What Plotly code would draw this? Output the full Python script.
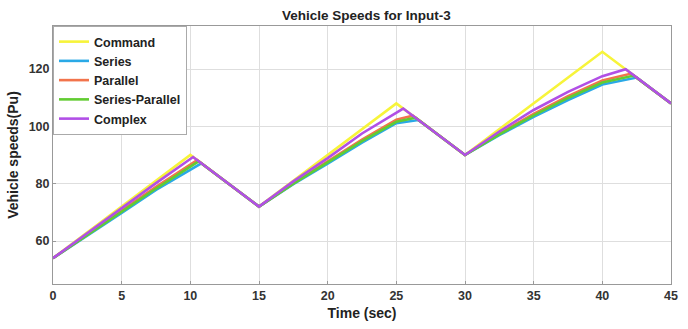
import plotly.graph_objects as go

# Data
t_command = [0, 10, 15, 25, 30, 40, 45]
v_command = [54, 90, 72, 108, 90, 126, 108]

t_series = [0, 2.5, 5, 7.5, 10.8, 15, 17.5, 20, 22.5, 25, 26.6, 30, 32.5, 35, 37.5, 40, 42.5, 45]
v_series = [54, 61.8, 69.8, 77.8, 87.1, 72, 79.8, 87.0, 94.3, 101.1, 102.2, 90, 96.9, 103.3, 109.2, 114.6, 117.0, 108]

t_parallel = [0, 2.5, 5, 7.5, 10.5, 15, 17.5, 20, 22.5, 25, 26.2, 30, 32.5, 35, 37.5, 40, 42.1, 45]
v_parallel = [54, 62.3, 70.6, 78.9, 88.2, 72, 80.2, 87.8, 95.4, 102.3, 103.7, 90, 97.5, 104.3, 110.5, 116.0, 118.4, 108]

t_sp = [0, 2.5, 5, 7.5, 10.6, 15, 17.5, 20, 22.5, 25, 26.4, 30, 32.5, 35, 37.5, 40, 42.3, 45]
v_sp = [54, 62.0, 70.2, 78.3, 87.8, 72, 80.0, 87.3, 94.8, 101.6, 103.0, 90, 97.2, 103.8, 109.9, 115.3, 117.7, 108]

t_complex = [0, 2.5, 5, 7.5, 10.2, 15, 17.5, 20, 22.5, 25.5, 30, 32.5, 35, 37.5, 40, 41.7, 45]
v_complex = [54, 62.8, 71.5, 80.2, 89.3, 72, 80.8, 88.9, 97.5, 106.2, 90, 98.2, 105.7, 112.0, 117.5, 119.9, 108]

x_ticks = [0, 5, 10, 15, 20, 25, 30, 35, 40, 45]
y_ticks = [60, 80, 100, 120]

series = [
    ("Command", t_command, v_command, "#f7f43a"),
    ("Series", t_series, v_series, "#2aa9e6"),
    ("Parallel", t_parallel, v_parallel, "#f2744c"),
    ("Series-Parallel", t_sp, v_sp, "#62cc32"),
    ("Complex", t_complex, v_complex, "#b14fe6"),
]

fig = go.Figure()
for name, t, v, c in series:
    fig.add_trace(go.Scatter(x=t, y=v, mode="lines", name=f"<b>{name}</b>",
                             line=dict(color=c, width=2.6)))

font_fam = "Liberation Sans, Arial, sans-serif"
fig.update_layout(
    width=688, height=329,
    margin=dict(l=53, r=10, t=26, b=45),
    paper_bgcolor="white", plot_bgcolor="white",
    font=dict(family=font_fam, color="#333333"),
    title=dict(text="<b>Vehicle Speeds for Input-3</b>", x=0.5325, xanchor="center",
               y=0.955, yanchor="middle", font=dict(size=13.5, color="#222222")),
    showlegend=True,
    legend=dict(x=0.0, y=1.0, xanchor="left", yanchor="top",
                bgcolor="white", bordercolor="#aaaaaa", borderwidth=1,
                font=dict(size=12.5, family=font_fam, color="#222222"),
                tracegroupgap=0, itemwidth=30),
)
fig.update_xaxes(range=[0, 45], tickvals=x_ticks, ticktext=[f"<b>{v}</b>" for v in x_ticks],
                 showgrid=True, gridcolor="#dedede", gridwidth=1,
                 showline=True, linecolor="#999999", mirror=True, zeroline=False,
                 ticks="inside", ticklen=3, tickcolor="#999999",
                 tickfont=dict(size=12.5, color="#333333"),
                 title=dict(text="<b>Time (sec)</b>", font=dict(size=14, color="#222222"), standoff=6))
fig.update_yaxes(range=[45, 135], tickvals=y_ticks, ticktext=[f"<b>{v}</b>" for v in y_ticks],
                 showgrid=True, gridcolor="#dedede", gridwidth=1,
                 showline=True, linecolor="#999999", mirror=True, zeroline=False,
                 ticks="inside", ticklen=3, tickcolor="#999999",
                 tickfont=dict(size=12.5, color="#333333"),
                 title=dict(text="<b>Vehicle speeds(Pu)</b>", font=dict(size=14, color="#222222"), standoff=6))

fig.write_html("out.html")
